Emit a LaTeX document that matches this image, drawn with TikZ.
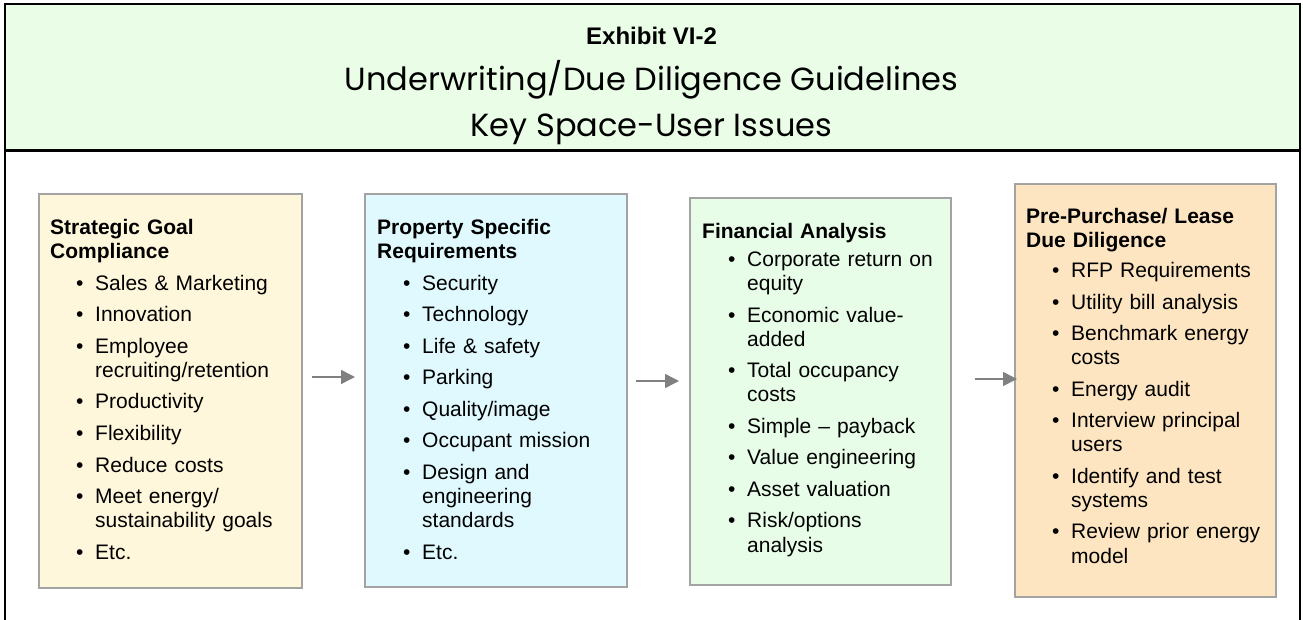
\documentclass[tikz,border=0pt]{standalone}
\usepackage{fontspec}
\setmainfont{Liberation Sans}
\newfontfamily\headfont{Poppins}
\usetikzlibrary{arrows.meta}

\definecolor{headfill}{HTML}{E9FDE7}
\definecolor{goalfill}{HTML}{FFF7DB}
\definecolor{propfill}{HTML}{DFF9FE}
\definecolor{finfill}{HTML}{E8FDE8}
\definecolor{duefill}{HTML}{FDE5C1}
\definecolor{boxline}{HTML}{A3A3A3}
\definecolor{arrowgray}{HTML}{808080}

% bulleted entry: optional gap above, hanging indent for wrapped lines
\newcommand\itm[2][7.5pt]{\par\vspace{#1}{\hangindent=45pt\hangafter=0\noindent
  \llap{\makebox[19pt][l]{\textbullet}}#2\par}}

\begin{document}
\begin{tikzpicture}[x=1pt,y=-1pt,
  stage/.style={draw=boxline, line width=2pt, anchor=north west, inner sep=0pt},
  body/.style={anchor=base west, inner sep=0pt, text width=250pt, align=left,
    font=\fontsize{21}{24}\selectfont},
  flow/.style={draw=arrowgray, line width=1.5pt,
    -{Triangle[length=14pt,width=14pt]}},
  frame/.style={draw=black, line width=2pt}]
\useasboundingbox (0,0) rectangle (1303,620);

% heading band and outer frame
\fill[headfill] (5,4) rectangle (1300,151);
\draw[frame] (5,622) -- (5,4) -- (1300,4) -- (1300,622);
\draw[black, line width=3pt] (5,151) -- (1300,151);

\node[font=\fontsize{24}{28}\selectfont\bfseries, anchor=base] (exh) at (651.5,45) {Exhibit VI-2};
\node[font=\headfont\fontsize{32}{36}\selectfont, anchor=base] (ttl1) at (651.5,91) {Underwriting/Due Diligence Guidelines};
\node[font=\headfont\fontsize{32}{36}\selectfont, anchor=base] (ttl2) at (651.5,137) {Key Space-User Issues};

% the four stages
\node[stage, fill=goalfill, minimum width=263pt, minimum height=394pt] (b1) at (38,193) {};
\node[stage, fill=propfill, minimum width=262pt, minimum height=393pt] (b2) at (364,193) {};
\node[stage, fill=finfill, minimum width=261pt, minimum height=387pt] (b3) at (689,197) {};
\node[stage, fill=duefill, minimum width=261pt, minimum height=413pt] (b4) at (1014,183) {};

\node[body] (t1) at (50,235) {\textbf{Strategic Goal}\newline\textbf{Compliance}
  \itm{Sales \& Marketing}
  \itm{Innovation}
  \itm{Employee\newline recruiting/retention}
  \itm{Productivity}
  \itm{Flexibility}
  \itm{Reduce costs}
  \itm{Meet energy/\newline sustainability goals}
  \itm{Etc.}};

\node[body] (t2) at (377,235) {\textbf{Property Specific}\newline\textbf{Requirements}
  \itm{Security}
  \itm{Technology}
  \itm{Life \& safety}
  \itm{Parking}
  \itm{Quality/image}
  \itm{Occupant mission}
  \itm{Design and\newline engineering\newline standards}
  \itm{Etc.}};

\node[body] (t3) at (702,239) {\textbf{Financial Analysis}
  \itm[4pt]{Corporate return on\newline equity}
  \itm{Economic value-\newline added}
  \itm{Total occupancy\newline costs}
  \itm{Simple – payback}
  \itm{Value engineering}
  \itm{Asset valuation}
  \itm{Risk/options\newline analysis}};

\node[body] (t4) at (1026,224) {\textbf{Pre-Purchase/ Lease}\newline\textbf{Due Diligence}
  \itm[6pt]{RFP Requirements}
  \itm{Utility bill analysis}
  \itm{Benchmark energy\newline costs}
  \itm{Energy audit}
  \itm{Interview principal\newline users}
  \itm{Identify and test\newline systems}
  \itm{Review prior energy\newline model}};

% connectors between stages
\coordinate (a1) at ([yshift=14pt]b1.east);
\coordinate (a2) at ([yshift=9.5pt]b2.east);
\coordinate (a3) at ([yshift=12.5pt]b3.east);
\draw[flow, shorten <=9pt, shorten >=9pt] (a1) -- (a1 -| b2.west);
\draw[flow, shorten <=8pt, shorten >=10pt] (a2) -- (a2 -| b3.west);
\draw[flow, shorten <=23pt, shorten >=-3pt] (a3) -- (a3 -| b4.west);
\end{tikzpicture}
\end{document}
